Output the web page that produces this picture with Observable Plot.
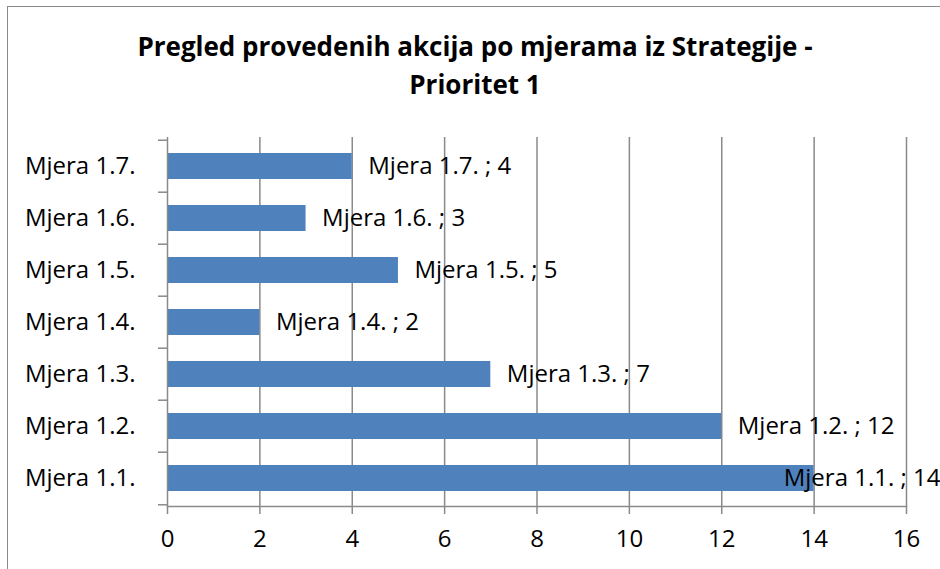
<!DOCTYPE html>
<html><head><meta charset="utf-8">
<script src="https://cdn.jsdelivr.net/npm/d3@7"></script>
<script src="https://cdn.jsdelivr.net/npm/@observablehq/plot@0.6"></script>
<style>
html,body{margin:0;padding:0;background:#fff;width:940px;height:569px;overflow:hidden;}
#wrap{position:relative;width:940px;height:569px;font-family:"Open Sans",sans-serif;}
#border{position:absolute;left:7px;top:6px;width:960px;height:600px;border:1.5px solid #8a8a8a;box-sizing:border-box;}
#title{position:absolute;left:0;top:27px;width:950px;text-align:center;font-weight:bold;font-size:26px;line-height:38px;color:#000;}
#chart{position:absolute;left:0;top:0;}
</style></head>
<body><div id="wrap"><div id="border"></div><div id="title">Pregled provedenih akcija po mjerama iz Strategije -<br>Prioritet 1</div><div id="chart"></div></div>
<script>
const categories = ["Mjera 1.1.", "Mjera 1.2.", "Mjera 1.3.", "Mjera 1.4.", "Mjera 1.5.", "Mjera 1.6.", "Mjera 1.7."];
const values = [14, 12, 7, 2, 5, 3, 4];
const xTicks = [0, 2, 4, 6, 8, 10, 12, 14, 16];

const data = categories.map((c, i) => ({cat: c, value: values[i], label: `${c} ; ${values[i]}`}));
const maxV = d3.max(values);
const grid = "#8a8a8a";
const font = "'Open Sans', sans-serif";
const fs = 24;

const plot = Plot.plot({
  width: 940, height: 569,
  marginTop: 137, marginBottom: 63, marginLeft: 167, marginRight: 34,
  style: {fontFamily: font, fontSize: fs + "px", color: "#000", background: "transparent"},
  x: {domain: [0, 16], ticks: xTicks},
  y: {domain: categories.slice().reverse(), paddingInner: 0.5, paddingOuter: 0.25, label: null},
  marks: [
    Plot.ruleX(xTicks.filter(t => t > 0), {stroke: grid, strokeWidth: 1.5, strokeOpacity: 1}),
    Plot.barX(data, {y: "cat", x: "value", fill: "#4f81bd"}),
    Plot.ruleX([0], {stroke: grid, strokeWidth: 1.5, strokeOpacity: 1}),
    Plot.frame({anchor: "bottom", stroke: grid, strokeWidth: 1.5}),
    Plot.axisX({ticks: xTicks, tickSize: 8, tickPadding: 15, label: null, stroke: grid, strokeWidth: 1.5, fontSize: fs}),
    Plot.axisY({tickSize: 0, tickPadding: 32, label: null, fontSize: fs}),
    Plot.axisY({tickSize: 9, text: null, dy: -26.3, stroke: grid, strokeWidth: 1.5}),
    Plot.axisY(categories.slice(0,1), {tickSize: 9, text: null, dy: 26.3, stroke: grid, strokeWidth: 1.5}),
    Plot.text(data.filter(d => d.value < maxV), {y: "cat", x: "value", text: "label", textAnchor: "start", dx: 16, fontSize: fs, fill: "#000"}),
    Plot.text(data.filter(d => d.value === maxV), {y: "cat", frameAnchor: "right", text: "label", textAnchor: "end", dx: 34, fontSize: fs, fill: "#000"})
  ]
});
document.getElementById("chart").appendChild(plot);
</script>
</body></html>
